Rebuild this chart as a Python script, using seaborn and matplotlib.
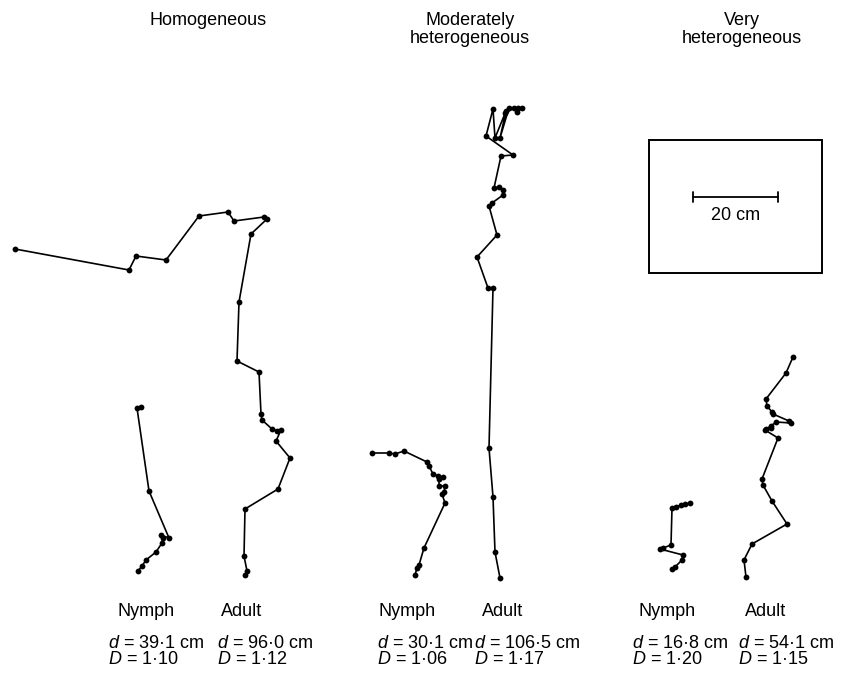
import matplotlib
matplotlib.use("Agg")
import matplotlib.pyplot as plt
import seaborn as sns
import pandas as pd
from matplotlib.patches import Rectangle

sns.set_theme(style="white")
plt.rcParams['font.family'] = ['Liberation Sans', 'DejaVu Sans']
plt.rcParams['text.color'] = 'black'
plt.rcParams['mathtext.fontset'] = 'custom'
plt.rcParams['mathtext.it'] = 'Liberation Sans:italic'
plt.rcParams['mathtext.rm'] = 'Liberation Sans'

# Path coordinates (picture units, y downwards)
hom_nymph_x = [141, 137, 149, 169, 161, 163, 162, 156, 146, 142, 138]
hom_nymph_y = [407, 408, 491, 538, 535, 538, 543, 552, 560, 566, 571]

hom_adult_x = [15, 129, 136, 166, 199, 228, 234, 264, 267, 251, 239, 237, 259, 261, 262,
               272, 277, 281, 276, 290, 278, 245, 244, 247, 245]
hom_adult_y = [249, 270, 256, 260, 216, 212, 221, 217, 219, 234, 302, 361, 372, 414, 420,
               429, 431, 430, 441, 458, 489, 509, 556, 571, 575]

mod_nymph_x = [372, 389, 395, 404, 427, 429, 433, 438, 443, 439, 439, 445, 444, 442, 445,
               424, 419, 417, 415]
mod_nymph_y = [453, 453, 454, 451, 462, 466, 474, 476, 477, 479, 486, 486, 492, 494, 503,
               548, 565, 568, 575]

mod_adult_x = [500, 495, 493, 489, 493, 488, 477, 497, 489, 492, 503, 503, 499, 494, 501,
               513, 486, 493, 495, 506, 500, 509, 505, 514, 518, 522, 517]
mod_adult_y = [578, 552, 497, 448, 288, 288, 257, 235, 206, 203, 195, 190, 187, 188, 156,
               155, 136, 109, 138, 111, 138, 108, 113, 108, 108, 108, 112]

very_nymph_x = [690, 685, 681, 676, 672, 671, 663, 660, 683, 682, 675, 672]
very_nymph_y = [503, 504, 505, 507, 508, 545, 548, 549, 555, 560, 567, 569]

very_adult_x = [793, 786, 766, 767, 772, 773, 789, 791, 776, 771, 766, 771, 765, 778, 762,
                763, 772, 787, 752, 744, 746]
very_adult_y = [357, 373, 399, 406, 412, 414, 421, 423, 422, 426, 429, 428, 430, 438, 479,
                485, 501, 524, 544, 560, 577]

titles = ["Homogeneous", "Moderately\nheterogeneous", "Very\nheterogeneous"]
stage_labels = ["Nymph", "Adult"]
d_values = ["39·1", "96·0", "30·1", "106·5", "16·8", "54·1"]
D_values = ["1·10", "1·12", "1·06", "1·17", "1·20", "1·15"]
scale_label = "20 cm"

paths = [(hom_nymph_x, hom_nymph_y), (hom_adult_x, hom_adult_y),
         (mod_nymph_x, mod_nymph_y), (mod_adult_x, mod_adult_y),
         (very_nymph_x, very_nymph_y), (very_adult_x, very_adult_y)]

fig = plt.figure(figsize=(8.41, 6.78), dpi=100)
ax = fig.add_axes([0, 0, 1, 1])

for i, (px, py) in enumerate(paths):
    df = pd.DataFrame({"x": px, "y": py})
    sns.lineplot(data=df, x="x", y="y", sort=False, estimator=None, ax=ax,
                 color="black", linewidth=1.2, marker="o", markersize=4.2,
                 markeredgewidth=0, legend=False)

ax.set_xlim(0, 841)
ax.set_ylim(678, 0)
ax.axis("off")

fs = 13
title_x = [208, 470, 742]
for tx, t in zip(title_x, titles):
    ax.text(tx, 12, t, ha="center", va="top", fontsize=fs, linespacing=1.05, color="black")

label_x = [146, 242, 407, 503, 667, 766]
text_x = [108, 217, 377, 474, 632, 738]
for k in range(6):
    ax.text(label_x[k], 611, stage_labels[k % 2], ha="center", va="center", fontsize=fs,
            color="black")
    ax.text(text_x[k], 643, f"$d$ = {d_values[k]} cm", ha="left", va="center", fontsize=fs,
            color="black")
    ax.text(text_x[k], 659, f"$D$ = {D_values[k]}", ha="left", va="center", fontsize=fs,
            color="black")

# scale box
ax.add_patch(Rectangle((649, 140), 173, 133, fill=False, edgecolor="black", linewidth=1.4))
ax.plot([693, 778], [197, 197], color="black", linewidth=1.3)
ax.plot([693, 693], [192, 202], color="black", linewidth=1.3)
ax.plot([778, 778], [192, 202], color="black", linewidth=1.3)
ax.text(735.5, 216, scale_label, ha="center", va="center", fontsize=fs, color="black")

fig.savefig("out.png", dpi=100)
